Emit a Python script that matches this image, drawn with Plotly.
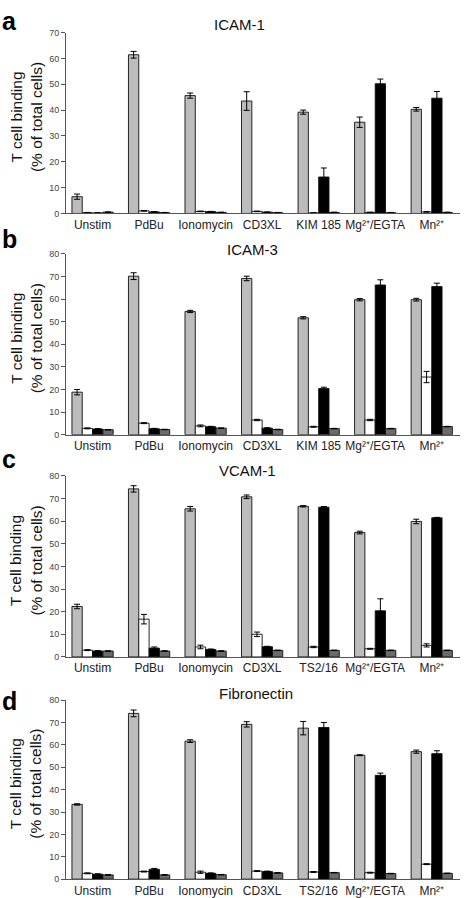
import plotly.graph_objects as go

# ---------------- data ----------------
cats_ab = ["Unstim", "PdBu", "Ionomycin", "CD3XL", "KIM 185", "Mg²⁺/EGTA", "Mn²⁺"]
cats_cd = ["Unstim", "PdBu", "Ionomycin", "CD3XL", "TS2/16", "Mg²⁺/EGTA", "Mn²⁺"]

series_names = ["Series 1", "Series 2", "Series 3", "Series 4"]

# Panel a: ICAM-1
a_vals = [
    [6.5, 61.4, 45.6, 43.5, 39.2, 35.3, 40.3],
    [0.3, 1.0, 0.8, 0.8, 0.2, 0.4, 0.6],
    [0.2, 0.6, 0.7, 0.5, 14.1, 50.2, 44.6],
    [0.5, 0.3, 0.4, 0.3, 0.4, 0.3, 0.4],
]
a_errs = [
    [1.0, 1.3, 1.0, 3.6, 0.8, 2.0, 0.7],
    [0.1, 0.1, 0.1, 0.1, 0.1, 0.1, 0.1],
    [0.1, 0.1, 0.1, 0.1, 3.5, 1.8, 2.6],
    [0.1, 0.1, 0.1, 0.1, 0.1, 0.1, 0.1],
]

# Panel b: ICAM-3
b_vals = [
    [18.8, 70.1, 54.5, 69.1, 51.7, 59.7, 59.7],
    [2.8, 5.1, 3.9, 6.5, 3.5, 6.5, 25.5],
    [2.5, 2.6, 3.5, 2.9, 20.4, 66.2, 65.5],
    [2.2, 2.3, 2.9, 2.3, 2.7, 2.7, 3.6],
]
b_errs = [
    [1.2, 1.5, 0.5, 1.0, 0.5, 0.5, 0.6],
    [0.2, 0.2, 0.4, 0.3, 0.2, 0.3, 2.5],
    [0.2, 0.2, 0.2, 0.2, 0.6, 2.3, 1.5],
    [0.1, 0.1, 0.1, 0.1, 0.1, 0.1, 0.1],
]

# Panel c: VCAM-1
c_vals = [
    [22.3, 74.3, 65.5, 70.8, 66.6, 55.0, 59.9],
    [3.0, 16.7, 4.4, 10.0, 4.4, 3.6, 5.1],
    [2.6, 3.9, 3.3, 4.5, 66.2, 20.4, 61.5],
    [2.6, 2.6, 2.6, 2.9, 2.9, 2.9, 2.9],
]
c_errs = [
    [1.0, 1.4, 1.0, 0.8, 0.3, 0.6, 1.0],
    [0.2, 2.1, 0.8, 1.0, 0.3, 0.2, 0.7],
    [0.2, 0.5, 0.2, 0.2, 0.3, 5.3, 0.2],
    [0.1, 0.1, 0.1, 0.1, 0.1, 0.1, 0.1],
]

# Panel d: Fibronectin
d_vals = [
    [33.4, 74.1, 61.7, 69.2, 67.5, 55.4, 57.0],
    [2.6, 3.4, 3.1, 3.6, 3.2, 2.9, 6.7],
    [2.2, 4.4, 2.6, 3.4, 67.8, 46.4, 56.1],
    [1.9, 1.9, 2.0, 2.8, 2.9, 2.5, 2.6],
]
d_errs = [
    [0.3, 1.5, 0.6, 1.2, 3.0, 0.2, 0.7],
    [0.2, 0.2, 0.5, 0.2, 0.2, 0.2, 0.2],
    [0.2, 0.4, 0.2, 0.2, 2.2, 1.0, 1.3],
    [0.1, 0.1, 0.1, 0.1, 0.1, 0.1, 0.1],
]

panel_titles = ["ICAM-1", "ICAM-3", "VCAM-1", "Fibronectin"]
panel_letters = ["a", "b", "c", "d"]
y_max = [70, 80, 80, 80]

# ---------------- layout geometry ----------------
W, H = 466, 898
FONT = "Arial, Liberation Sans, Helvetica, sans-serif"
fill_colors = ["#bcbcbc", "#ffffff", "#000000", "#6b6b6b"]


def fy(px):
    return 1 - px / H


def fx(px):
    return px / W


# (bottom px, top px, title x, title y, letter y)
geom = [
    (212, 28, 239, 20, 16),
    (437, 253, 252, 249, 238),
    (663, 479, 247, 473, 462),
    (889, 707, 256, 700, 708),
]

panels = [
    (cats_ab, a_vals, a_errs),
    (cats_ab, b_vals, b_errs),
    (cats_cd, c_vals, c_errs),
    (cats_cd, d_vals, d_errs),
]

fig = go.Figure()
annotations = []
layout_axes = {}

for i, (cats, vals, errs) in enumerate(panels):
    n = i + 1
    xa = "x" if n == 1 else f"x{n}"
    ya = "y" if n == 1 else f"y{n}"
    for s in range(4):
        fig.add_trace(go.Bar(
            x=list(range(len(cats))), y=vals[s], name=series_names[s],
            xaxis=xa, yaxis=ya, showlegend=False,
            marker=dict(color=fill_colors[s], line=dict(color="#111111", width=0.9)),
            error_y=dict(type="data", array=errs[s], visible=True,
                         color="#000000", thickness=1, width=3),
        ))
    bottom, top, tx, ty, ly = geom[i]
    xkey = "xaxis" if n == 1 else f"xaxis{n}"
    ykey = "yaxis" if n == 1 else f"yaxis{n}"
    layout_axes[xkey] = dict(
        domain=[fx(66), fx(460)], range=[-0.47, 6.5], anchor=ya,
        tickmode="array", tickvals=list(range(len(cats))), ticktext=cats,
        showline=True, linecolor="#555555", linewidth=1, ticks="",
        showgrid=False, zeroline=False,
        tickfont=dict(family=FONT, size=12, color="#222222"),
    )
    layout_axes[ykey] = dict(
        domain=[fy(bottom), fy(top)], range=[0, y_max[i]], anchor=xa,
        dtick=10, showline=True, linecolor="#555555", linewidth=1,
        ticks="outside", ticklen=4, tickcolor="#555555", tickwidth=1,
        showgrid=False, zeroline=False,
        tickfont=dict(family=FONT, size=9, color="#444444"),
    )
    annotations.append(dict(
        xref="paper", yref="paper", x=fx(tx), y=fy(ty), xanchor="center", yanchor="middle",
        text=panel_titles[i], showarrow=False,
        font=dict(family=FONT, size=15, color="#111111"),
    ))
    annotations.append(dict(
        xref="paper", yref="paper", x=fx(0), y=fy(ly), xanchor="left", yanchor="middle",
        text=f"<b>{panel_letters[i]}</b>", showarrow=False,
        font=dict(family=FONT, size=25, color="#000000"),
    ))
    annotations.append(dict(
        xref="paper", yref="paper", x=fx(26), y=fy((bottom + top) / 2 - 6),
        xanchor="center", yanchor="middle", textangle=-90,
        text="T cell binding<br>(% of total cells)", showarrow=False,
        font=dict(family=FONT, size=15.5, color="#111111"),
    ))

fig.update_layout(
    width=W, height=H, margin=dict(l=0, r=0, t=0, b=0),
    paper_bgcolor="white", plot_bgcolor="white",
    barmode="group", bargap=0.27, bargroupgap=0,
    annotations=annotations, showlegend=False,
    **layout_axes,
)

fig.write_html("out.html")
